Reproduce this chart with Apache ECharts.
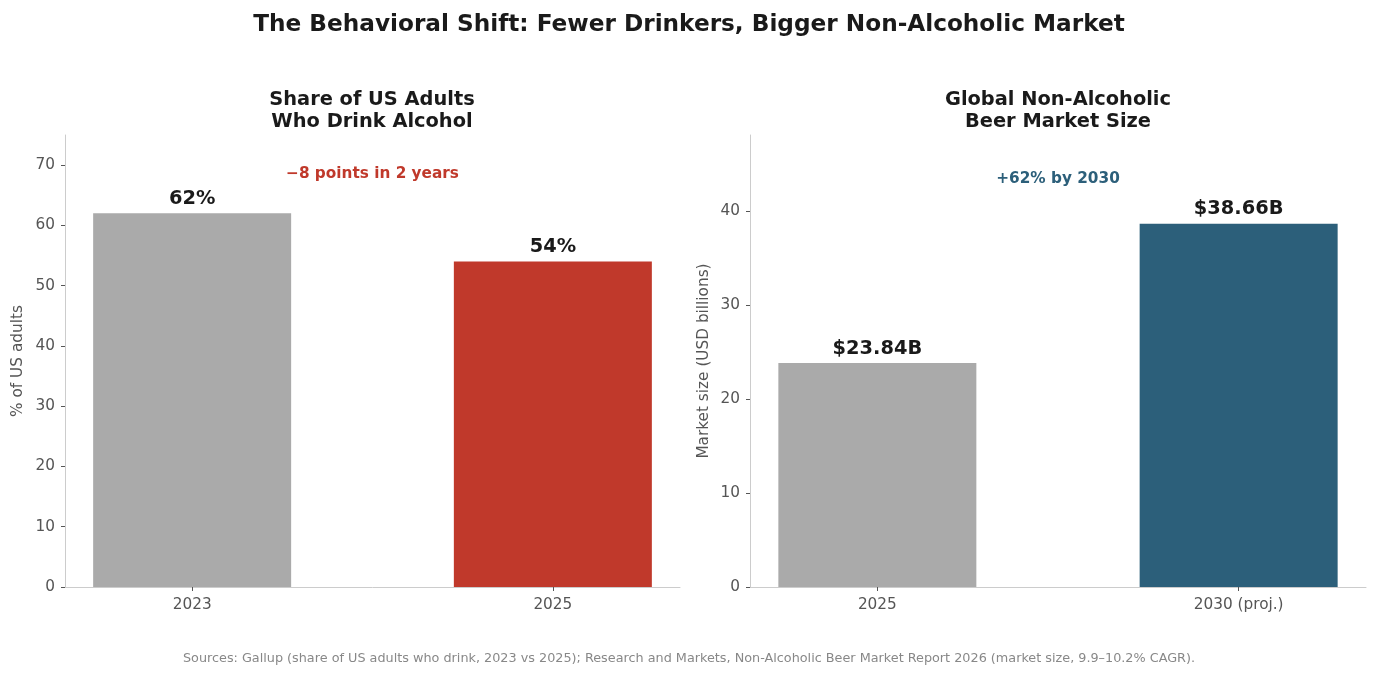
<!DOCTYPE html>
<html><head><meta charset="utf-8">
<script src="https://cdn.jsdelivr.net/npm/echarts@6/dist/echarts.min.js"></script>
<style>html,body{margin:0;padding:0;background:#fff}#c{width:1378px;height:676px}</style>
</head><body><div id="c"></div>
<script>
const leftCategories = ['2023', '2025'];
const leftValues = [62, 54];
const leftLabels = ['62%', '54%'];
const leftTicks = [0, 10, 20, 30, 40, 50, 60, 70];
const leftAnnotation = {text: '\u22128 points in 2 years', x: 0.5, y: 68.6};

const rightCategories = ['2025', '2030 (proj.)'];
const rightValues = [23.84, 38.66];
const rightLabels = ['$23.84B', '$38.66B'];
const rightTicks = [0, 10, 20, 30, 40];
const rightAnnotation = {text: '+62% by 2030', x: 0.5, y: 43.4};

const FONT = 'DejaVu Sans';
const GRAY = '#aaaaaa', RED = '#c0392b', BLUE = '#2c5f7a';
const AXC = '#cccccc', TXT = '#555555';

const chart = echarts.init(document.getElementById('c'), null, {renderer: 'canvas'});

function xAxis(idx, cats) {
  return {
    type: 'value', gridIndex: idx, min: -0.3525, max: 1.3525,
    axisLine: {show: true, onZero: false, lineStyle: {color: AXC, width: 1}},
    axisTick: {show: true, customValues: [0, 1], length: 4, lineStyle: {color: TXT}},
    axisLabel: {show: true, customValues: [0, 1], color: TXT, fontFamily: FONT, fontSize: 15.3, margin: 11,
      formatter: v => cats[Math.round(v)] || ''},
    splitLine: {show: false}
  };
}
function yAxis(idx, max, ticks, name) {
  return {
    type: 'value', gridIndex: idx, min: 0, max: max,
    name: name, nameLocation: 'middle', nameGap: idx === 0 ? 39 : 38,
    nameTextStyle: {color: TXT, fontFamily: FONT, fontSize: 15.3},
    axisLine: {show: true, onZero: false, lineStyle: {color: AXC, width: 1}},
    axisTick: {show: true, customValues: ticks, length: 4, lineStyle: {color: TXT}},
    axisLabel: {show: true, customValues: ticks, color: TXT, fontFamily: FONT, fontSize: 15.3, margin: 10},
    splitLine: {show: false}
  };
}
function barSeries(idx, values, labels, colors) {
  return {
    type: 'bar', xAxisIndex: idx, yAxisIndex: idx, barWidth: 198,
    data: values.map((v, i) => ({value: [i, v], itemStyle: {color: colors[i]},
      label: {formatter: labels[i]}})),
    label: {show: true, position: 'top', distance: 5, color: '#1a1a1a', fontFamily: FONT,
      fontSize: 19.4, fontWeight: 'bold'},
    silent: true, animation: false
  };
}
function annoSeries(idx, a, color) {
  return {
    type: 'scatter', xAxisIndex: idx, yAxisIndex: idx, symbolSize: 0,
    itemStyle: {opacity: 1},
    data: [[a.x, a.y]],
    label: {show: true, position: 'inside', formatter: a.text, color: color, fontFamily: FONT,
      fontSize: 15.3, fontWeight: 'bold', opacity: 1},
    silent: true, animation: false
  };
}

const titleStyle = {color: '#1a1a1a', fontFamily: FONT, fontSize: 19.4, fontWeight: 'bold', lineHeight: 22};

chart.setOption({
  backgroundColor: '#ffffff',
  animation: false,
  title: [
    {text: 'The Behavioral Shift: Fewer Drinkers, Bigger Non-Alcoholic Market', left: 'center', top: 8,
      textStyle: {color: '#1a1a1a', fontFamily: FONT, fontSize: 23.2, fontWeight: 'bold'}},
    {text: 'Share of US Adults\nWho Drink Alcohol', left: 367, top: 84, textAlign: 'center', textStyle: titleStyle},
    {text: 'Global Non-Alcoholic\nBeer Market Size', left: 1053, top: 84, textAlign: 'center', textStyle: titleStyle},
    {text: 'Sources: Gallup (share of US adults who drink, 2023 vs 2025); Research and Markets, Non-Alcoholic Beer Market Report 2026 (market size, 9.9\u201310.2% CAGR).',
      left: 'center', top: 647, textStyle: {color: '#888888', fontFamily: FONT, fontSize: 12.8, fontWeight: 'normal'}}
  ],
  grid: [
    {left: 65, right: 1378 - 680, top: 135, bottom: 676 - 587},
    {left: 750, right: 1378 - 1366, top: 135, bottom: 676 - 587}
  ],
  xAxis: [xAxis(0, leftCategories), xAxis(1, rightCategories)],
  yAxis: [yAxis(0, 75, leftTicks, '% of US adults'), yAxis(1, 48.1, rightTicks, 'Market size (USD billions)')],
  series: [
    barSeries(0, leftValues, leftLabels, [GRAY, RED]),
    barSeries(1, rightValues, rightLabels, [GRAY, BLUE]),
    annoSeries(0, leftAnnotation, RED),
    annoSeries(1, rightAnnotation, BLUE)
  ]
});
</script></body></html>
